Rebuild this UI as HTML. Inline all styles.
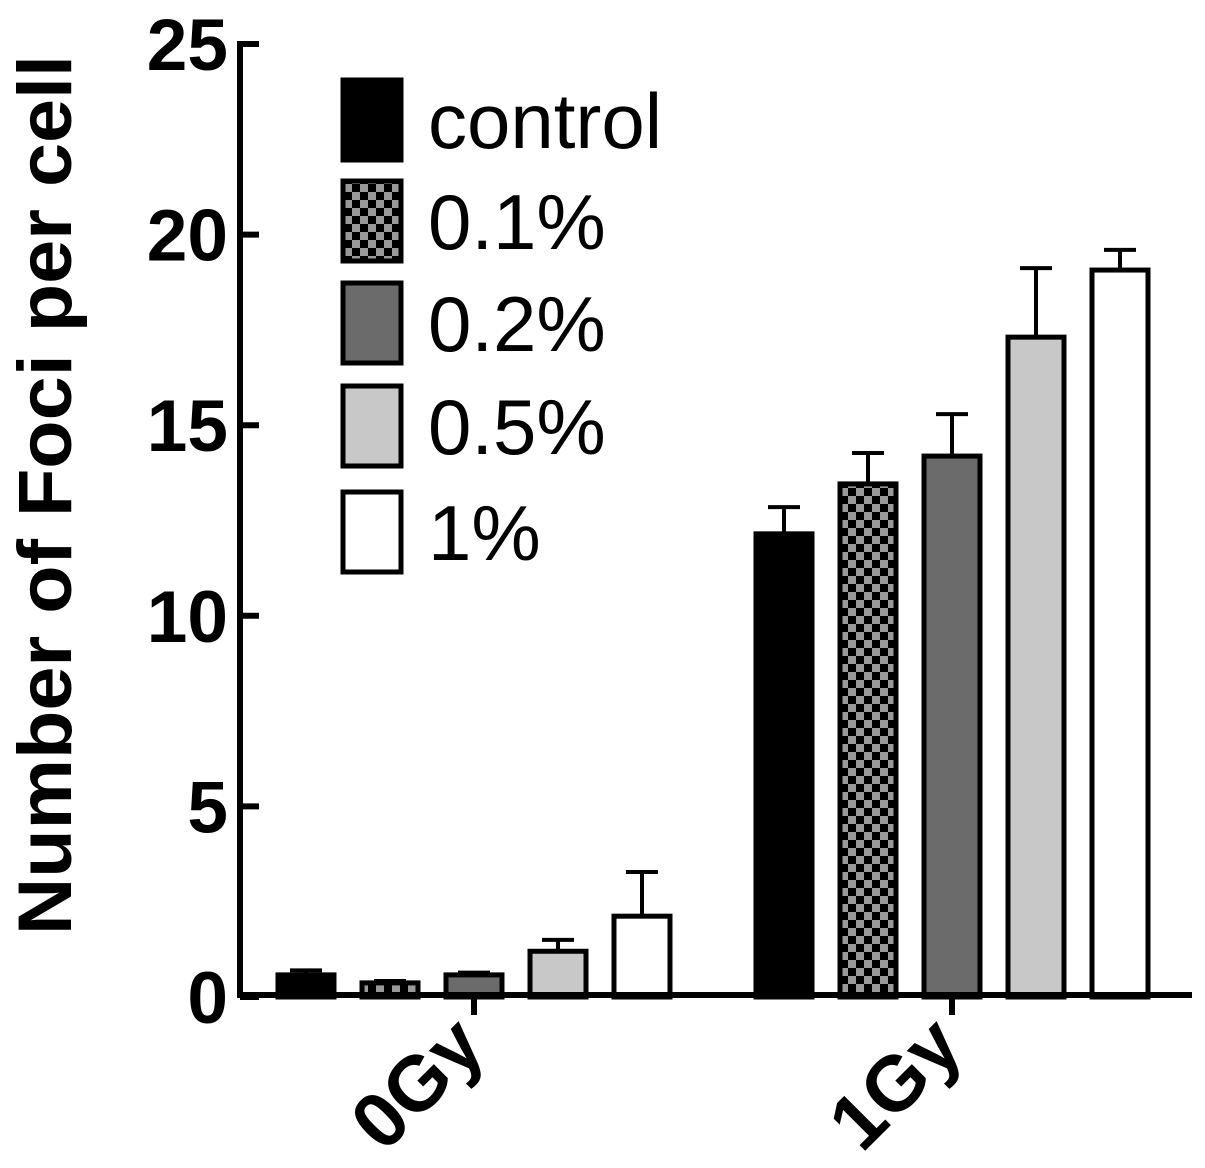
<!DOCTYPE html>
<html><head><meta charset="utf-8"><style>html,body{margin:0;padding:0;background:#fff}svg{display:block}text{font-family:"Liberation Sans",Arial,sans-serif}</style></head>
<body>
<svg id="chart" width="1205" height="1168" viewBox="0 0 1205 1168">
<defs>
<pattern id="checker" width="16" height="16" patternUnits="userSpaceOnUse">
<rect width="16" height="16" fill="#000"/><rect width="8" height="8" fill="#999"/><rect x="8" y="8" width="8" height="8" fill="#999"/>
</pattern>
</defs>
<g id="plot"></g>
</svg>
<script>
const groups = ["0Gy", "1Gy"];
const seriesNames = ["control", "0.1%", "0.2%", "0.5%", "1%"];
const values0Gy = [0.58, 0.37, 0.58, 1.2, 2.12];
const values1Gy = [12.15, 13.46, 14.19, 17.31, 19.07];
const errors0Gy = [0.12, 0.05, 0.06, 0.3, 1.16];
const errors1Gy = [0.7, 0.81, 1.1, 1.81, 0.53];
const yTicks = [0, 5, 10, 15, 20, 25];
const fills = ["#000", "url(#checker)", "#6b6b6b", "#c8c8c8", "#fff"];

const NS = "http://www.w3.org/2000/svg";
const g = document.getElementById("plot");
function y(v){ return 997 - v * 38.12; }
const groupCenters = [474, 952];
function x(gi, si){ return groupCenters[gi] + (si - 2) * 84; }
function mk(tag, attrs, parent){ const e = document.createElementNS(NS, tag); for (const k in attrs) e.setAttribute(k, attrs[k]); (parent||g).appendChild(e); return e; }

const allVals = [values0Gy, values1Gy], allErr = [errors0Gy, errors1Gy];
groups.forEach((grp, gi) => {
  seriesNames.forEach((s, si) => {
    const v = allVals[gi][si], e = allErr[gi][si], cx = x(gi, si);
    const el = mk("line", {x1: cx, x2: cx, y1: y(v), y2: y(v + e), stroke: "#000", "stroke-width": 4});
    
    
    const cap = mk("line", {x1: cx - 16, x2: cx + 16, y1: y(v + e), y2: y(v + e), stroke: "#000", "stroke-width": 4});
    
    
    const b = mk("rect", {x: cx - 28, y: y(v), width: 56, height: y(0) - y(v), fill: fills[si], stroke: "#000", "stroke-width": 5});
    
    
  });
});

const xa = mk("line", {x1: 237, x2: 1192, y1: 995, y2: 995, stroke: "#000", "stroke-width": 6});


const ya = mk("line", {x1: 240, x2: 240, y1: 41, y2: 998, stroke: "#000", "stroke-width": 6});



yTicks.forEach(t => {
  const tk = mk("line", {x1: 240, x2: 259, y1: y(t), y2: y(t), stroke: "#000", "stroke-width": 6});
  
  
  const tl = mk("text", {x: 228, y: y(t) + 26, "text-anchor": "end", "font-size": 73, "font-weight": "bold"});
  tl.textContent = t;
  
  
});

groups.forEach((grp, gi) => {
  const cx = groupCenters[gi];
  const tk = mk("line", {x1: cx, x2: cx, y1: 995, y2: 1015, stroke: "#000", "stroke-width": 6});
  
  
  const tl = mk("text", {x: cx + 14, y: 1050, "text-anchor": "end", "font-size": 78, "font-weight": "bold", transform: `rotate(-45 ${cx + 14} 1050)`});
  tl.textContent = grp;
  
  
});

const yl = mk("text", {x: 0, y: 0, "text-anchor": "middle", "font-size": 76, "font-weight": "bold", textLength: 880, lengthAdjust: "spacingAndGlyphs", transform: "translate(71 495) rotate(-90)"});
yl.textContent = "Number of Foci per cell";



const legTops = [80, 181, 283, 386, 492];
seriesNames.forEach((s, si) => {
  const r = mk("rect", {x: 343, y: legTops[si], width: 58, height: 80, fill: fills[si], stroke: "#000", "stroke-width": 5});
  
  
  const t = mk("text", {x: 428, y: legTops[si] + 68, "font-size": 78});
  t.textContent = s;
  
  
});
</script>
</body></html>
